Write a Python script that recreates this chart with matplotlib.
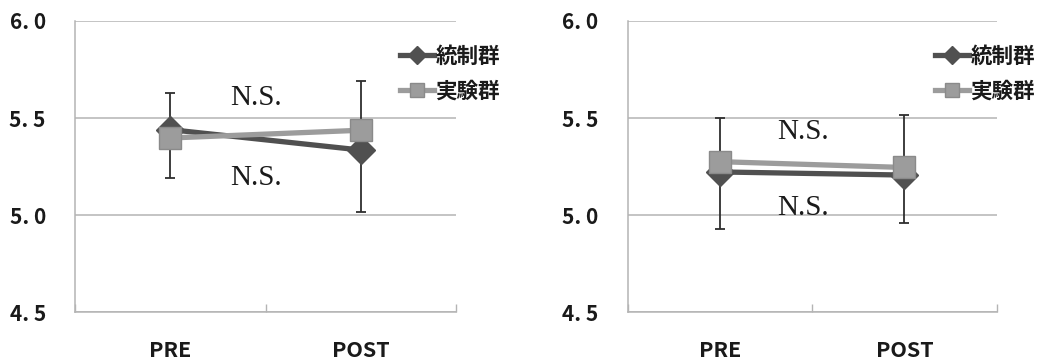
import matplotlib
matplotlib.use("Agg")
import matplotlib.pyplot as plt
import numpy as np

# Data
categories = ["PRE", "POST"]
series_names = ["統制群", "実験群"]

left_control = [5.44, 5.335]
left_experiment = [5.397, 5.437]
left_err_low = [5.19, 5.017]
left_err_high = [5.627, 5.692]

right_control = [5.222, 5.206]
right_experiment = [5.275, 5.245]
right_err_low = [4.926, 4.957]
right_err_high = [5.498, 5.515]

y_ticks = [4.5, 5.0, 5.5, 6.0]
y_tick_labels = ["4. 5", "5. 0", "5. 5", "6. 0"]
annotation = "N.S."

CJK = ["Noto Sans CJK JP", "DejaVu Sans"]
CONTROL_COLOR = "#505050"
EXP_COLOR = "#9c9c9c"
GRID_COLOR = "#b4b4b4"

fig = plt.figure(figsize=(10.48, 3.62), dpi=100)
ax_left = fig.add_axes([0.0716, 0.138, 0.3635, 0.804])
ax_right = fig.add_axes([0.599, 0.138, 0.352, 0.804])


def draw_panel(ax, control, experiment, err_low, err_high, ns_upper, ns_lower, leg_x):
    x = np.arange(len(categories))
    low = np.array(err_low)
    high = np.array(err_high)
    mid = (low + high) / 2
    ax.errorbar(x, mid, yerr=(high - low) / 2, fmt="none", ecolor="#2e2e2e",
                elinewidth=1.3, capsize=3.5, capthick=1.3, zorder=2)
    ax.plot(x, control, color=CONTROL_COLOR, lw=3.8, marker="D", ms=14,
            mfc=CONTROL_COLOR, mec=CONTROL_COLOR, zorder=3, label=series_names[0])
    ax.plot(x, experiment, color=EXP_COLOR, lw=3.8, marker="s", ms=16.5,
            mfc=EXP_COLOR, mec="#8a8a8a", zorder=4, label=series_names[1])

    ax.set_xlim(-0.5, 1.5)
    ax.set_ylim(4.5, 6.0)
    ax.set_yticks(y_ticks)
    ax.set_yticklabels(y_tick_labels, family=CJK, fontsize=15, weight="bold")
    ax.set_xticks(x)
    ax.set_xticklabels(categories, family=CJK, fontsize=15.5, weight="bold")
    ax.set_xticks([-0.5, 0.5, 1.5], minor=True)
    ax.tick_params(axis="y", length=0, pad=21, colors="#1a1a1a")
    ax.tick_params(axis="x", which="major", length=0, pad=20, colors="#1a1a1a")
    ax.tick_params(axis="x", which="minor", direction="in", length=6,
                   width=1, color=GRID_COLOR)
    ax.yaxis.grid(True, color=GRID_COLOR, lw=1.1)
    ax.set_axisbelow(True)
    for side in ("top", "right"):
        ax.spines[side].set_visible(False)
    for side in ("left", "bottom"):
        ax.spines[side].set_color(GRID_COLOR)
        ax.spines[side].set_linewidth(1.1)

    ax.text(0.45, ns_upper, annotation, ha="center", va="center",
            family="Liberation Serif", fontsize=21, color="#1a1a1a", zorder=5)
    ax.text(0.45, ns_lower, annotation, ha="center", va="center",
            family="Liberation Serif", fontsize=21, color="#1a1a1a", zorder=5)

    leg = ax.legend(loc="upper left", bbox_to_anchor=(leg_x, 0.915), frameon=False,
                    borderpad=0, borderaxespad=0, handlelength=1.6, handletextpad=0.05,
                    labelspacing=0.65, markerscale=0.62,
                    prop={"family": CJK, "weight": "bold", "size": 15.5})
    for t in leg.get_texts():
        t.set_color("#1a1a1a")


draw_panel(ax_left, left_control, left_experiment, left_err_low, left_err_high,
           5.603, 5.19, 0.853)
draw_panel(ax_right, right_control, right_experiment, right_err_low, right_err_high,
           5.43, 5.036, 0.832)

fig.savefig("out.png", dpi=100)
